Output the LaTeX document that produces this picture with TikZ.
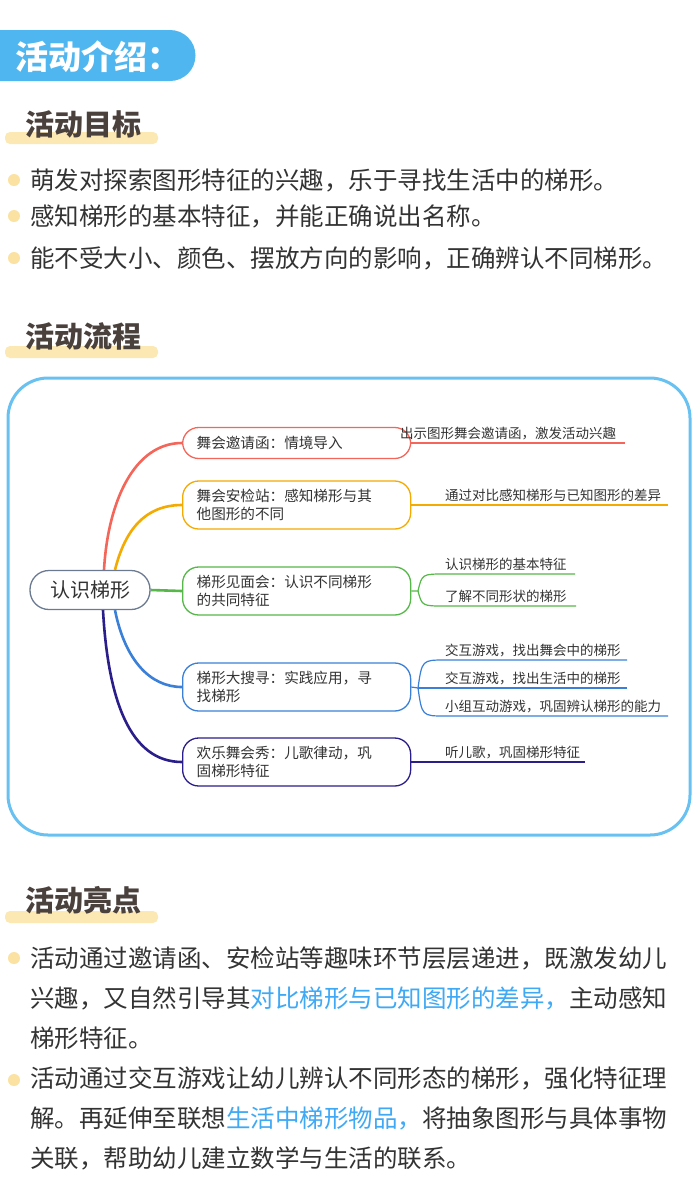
\documentclass[tikz,border=0pt]{standalone}
\usepackage{fontspec}
\setmainfont{Noto Sans CJK SC}
\usetikzlibrary{positioning}
\pgfdeclarelayer{bg}
\pgfdeclarelayer{edges}
\pgfsetlayers{bg,edges,main}
\definecolor{hdr}{HTML}{4FB6F0}
\definecolor{ttl}{HTML}{4A403C}
\definecolor{hl}{HTML}{FCE8B2}
\definecolor{dot}{HTML}{FBE2A2}
\definecolor{txt}{HTML}{333333}
\definecolor{cR}{HTML}{F4665A}
\definecolor{cO}{HTML}{F5AA00}
\definecolor{cG}{HTML}{55B848}
\definecolor{cB}{HTML}{3A80D8}
\definecolor{cN}{HTML}{2A1E8A}
\definecolor{rootc}{HTML}{6B7A90}
\definecolor{blu}{HTML}{3FA9F5}
\tikzset{
  sect/.style={anchor=west,text=ttl,font=\fontsize{29}{29}\selectfont\bfseries,inner sep=0},
  bar/.style={fill=hl,rounded corners=5pt},
  bul/.style={circle,fill=dot,inner sep=0,minimum size=12pt},
  btxt/.style={anchor=west,text=txt,font=\fontsize{24.5}{24.5}\selectfont,inner sep=0},
  br/.style={draw=#1,fill=white,line width=1.3pt,rounded corners=16pt,anchor=west,minimum width=228pt,minimum height=31pt,align=left,text width=200pt,inner xsep=13pt,text=txt,font=\fontsize{14.6}{18}\selectfont},
  lf/.style={anchor=south west,text=txt,font=\fontsize{13.5}{13.5}\selectfont,inner sep=0},
  edge/.style={draw=#1,line width=2.6pt},
  ledge/.style={draw=#1,line width=1.2pt},
}
\begin{document}
\begin{tikzpicture}[x=1pt,y=-1pt]
\begin{pgfonlayer}{bg}
\fill[white] (0,0) rectangle (700,1195);
\end{pgfonlayer}
\useasboundingbox (0,0) rectangle (700,1195);
% header
\fill[hdr] (0,30) -- (170,30) arc[start angle=-90,end angle=90,radius=25.5] -- (0,81) -- cycle;
\node[anchor=west,text=white,font=\fontsize{33}{33}\selectfont\bfseries,inner sep=0] (hdrt) at (15,57) {活动介绍：};
% section 1
\fill[bar] (5,132) rectangle (158,144);
\node[sect] (s1) at (25,124) {活动目标};
\foreach \y/\t [count=\i] in {180/萌发对探索图形特征的兴趣，乐于寻找生活中的梯形。,216/感知梯形的基本特征，并能正确说出名称。,258/能不受大小、颜色、摆放方向的影响，正确辨认不同梯形。}{
  \node[bul] (d\i) at (14,\y) {};
  \node[btxt] (t\i) at (30,\y) {\t};
}
% section 2
\fill[bar] (5,346) rectangle (158,358);
\node[sect] (s2) at (25,336) {活动流程};
\draw[hdr!85,line width=3pt,rounded corners=40pt] (8,378) rectangle (690,835);
% mind map
\node[draw=rootc,fill=white,line width=1.3pt,rounded corners=19pt,minimum width=120pt,minimum height=39pt,text=txt,font=\fontsize{20}{20}\selectfont] (root) at (90,590) {认识梯形};
\node[br=cR,minimum height=31pt] (b1) at (182,443) {舞会邀请函：情境导入};
\node[br=cO,minimum height=48pt] (b2) at (182,505) {舞会安检站：感知梯形与其\\他图形的不同};
\node[br=cG,minimum height=48pt] (b3) at (182,591) {梯形见面会：认识不同梯形\\的共同特征};
\node[br=cB,minimum height=48pt] (b4) at (182,687) {梯形大搜寻：实践应用，寻\\找梯形};
\node[br=cN,minimum height=48pt] (b5) at (182,762) {欢乐舞会秀：儿歌律动，巩\\固梯形特征};
\begin{pgfonlayer}{edges}
\draw[edge=cR] ([xshift=14pt]root.north) .. controls (108,500) and (135,443) .. (b1.west);
\draw[edge=cO] ([xshift=25pt]root.north) .. controls (125,530) and (145,505) .. (b2.west);
\draw[edge=cG] (root.east) -- (b3.west);
\draw[edge=cB] ([xshift=25pt]root.south) .. controls (125,660) and (150,687) .. (b4.west);
\draw[edge=cN] ([xshift=13pt]root.south) .. controls (108,700) and (130,762) .. (b5.west);
\end{pgfonlayer}
% leaves
\coordinate (e1) at (625,443);
\draw[ledge=cR] (b1.east) -- (e1);
\node[lf] (l1) at (400,440) {出示图形舞会邀请函，激发活动兴趣};
\coordinate (e2) at (668,505);
\draw[ledge=cO] (b2.east) -- (e2);
\node[lf] (l2) at (445,502) {通过对比感知梯形与已知图形的差异};
\coordinate (f3) at (418,591);
\coordinate (e31) at (575,574);
\coordinate (e32) at (576,606);
\draw[ledge=cG] (b3.east) -- (f3) .. controls (422,574) .. (445,574) -- (e31);
\draw[ledge=cG] (f3) .. controls (422,606) .. (445,606) -- (e32);
\node[lf] (l31) at (445,571) {认识梯形的基本特征};
\node[lf] (l32) at (445,603) {了解不同形状的梯形};
\coordinate (f4) at (418,688);
\coordinate (e41) at (627,660);
\coordinate (e42) at (627,688);
\coordinate (e43) at (668,716);
\draw[ledge=cB] (b4.east) -- (f4) .. controls (422,660) .. (445,660) -- (e41);
\draw[ledge=cB] (f4) -- (e42);
\draw[ledge=cB] (f4) .. controls (422,716) .. (445,716) -- (e43);
\node[lf] (l41) at (445,657) {交互游戏，找出舞会中的梯形};
\node[lf] (l42) at (445,685) {交互游戏，找出生活中的梯形};
\node[lf] (l43) at (445,713) {小组互动游戏，巩固辨认梯形的能力};
\coordinate (e5) at (585,762);
\draw[ledge=cN] (b5.east) -- (e5);
\node[lf] (l5) at (445,759) {听儿歌，巩固梯形特征};
% section 3
\fill[bar] (5,911) rectangle (158,923);
\node[sect] (s3) at (25,900) {活动亮点};
\node[bul] (d4) at (14,958) {};
\node[btxt] (p1) at (30,958) {活动通过邀请函、安检站等趣味环节层层递进，既激发幼儿};
\node[btxt] (p2) at (30,998) {兴趣，又自然引导其\textcolor{blu}{对比梯形与已知图形的差异，}主动感知};
\node[btxt] (p3) at (30,1038) {梯形特征。};
\node[bul] (d5) at (14,1080) {};
\node[btxt] (p4) at (30,1078) {活动通过交互游戏让幼儿辨认不同形态的梯形，强化特征理};
\node[btxt] (p5) at (30,1118) {解。再延伸至联想\textcolor{blu}{生活中梯形物品，}将抽象图形与具体事物};
\node[btxt] (p6) at (30,1158) {关联，帮助幼儿建立数学与生活的联系。};
\end{tikzpicture}
\end{document}
